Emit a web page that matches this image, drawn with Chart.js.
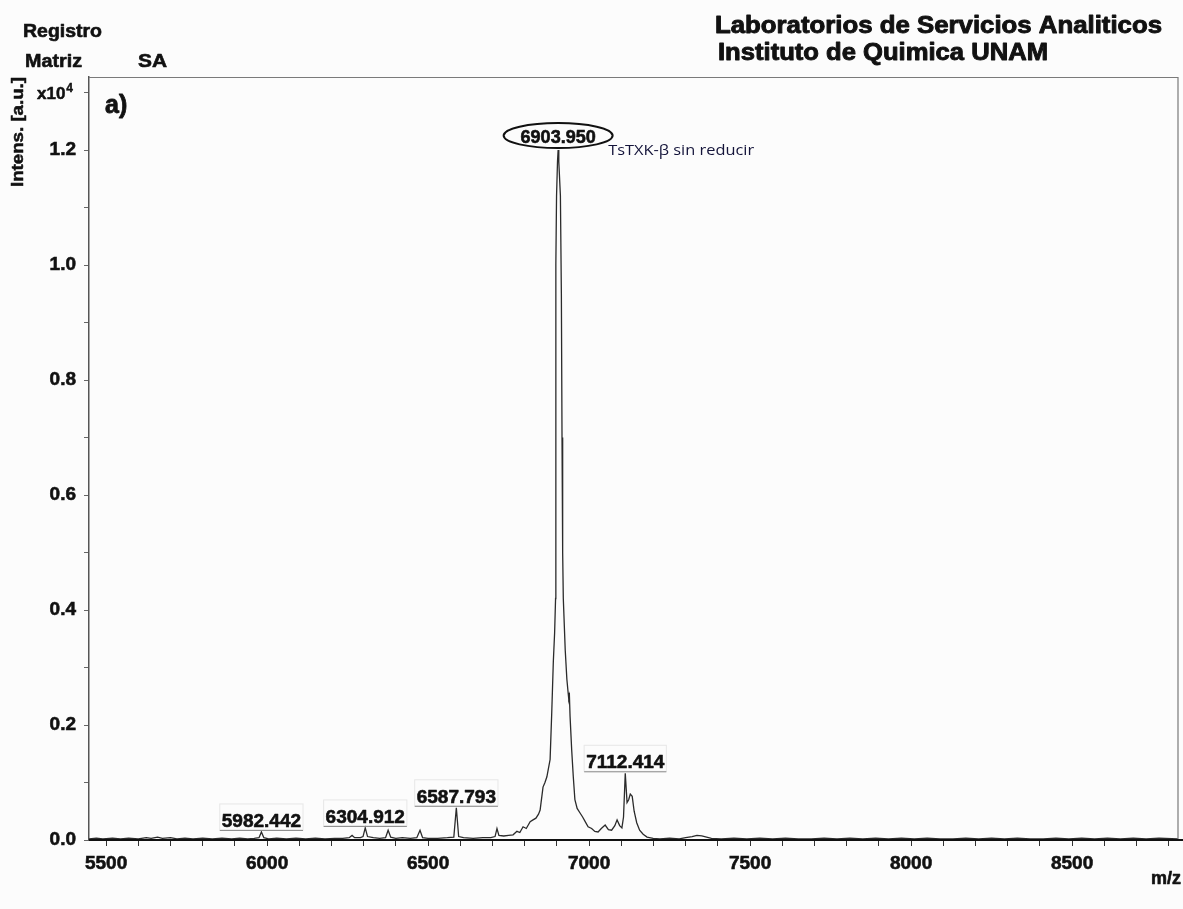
<!DOCTYPE html>
<html>
<head>
<meta charset="utf-8">
<script src="https://cdn.jsdelivr.net/npm/chart.js@4.4.1/dist/chart.umd.min.js"></script>
<style>
  html, body { margin: 0; padding: 0; background: #fcfcfc; }
  #wrap { width: 1183px; height: 909px; position: relative; }
  canvas { display: block; }
</style>
</head>
<body>
<div id="wrap"><canvas id="c" width="1183" height="909"></canvas></div>
<script>
// MALDI-TOF spectrum: m/z vs intensity (x10^4 a.u.)
const mz = [
  5447, 5470, 5490, 5520, 5545, 5570, 5600, 5625, 5640, 5660, 5675, 5700, 5720, 5745, 5770,
  5800, 5830, 5860, 5890, 5915, 5940, 5960, 5975, 5982.442, 5990, 6005, 6030, 6060, 6090,
  6120, 6150, 6180, 6210, 6235, 6255, 6264, 6272, 6290, 6298, 6304.912, 6312, 6330, 6350,
  6368, 6376, 6384, 6400, 6420, 6445, 6465, 6475, 6483, 6500, 6530, 6560, 6580, 6587.793,
  6595, 6610, 6640, 6670, 6695, 6708, 6714, 6720, 6735, 6750, 6764, 6776, 6785, 6795, 6805,
  6817, 6826, 6835, 6843, 6848, 6857, 6863, 6869, 6874, 6879, 6884, 6889, 6893, 6896,
  6896.5, 6897.2, 6899, 6902, 6903.95, 6906, 6911, 6914, 6916, 6918, 6920, 6926, 6931,
  6935, 6937, 6939, 6941, 6946, 6951, 6956, 6963, 6972, 6980, 6988, 6997, 7008, 7018,
  7028, 7038, 7050, 7060, 7070, 7080, 7087, 7095, 7102, 7107, 7112.414, 7118, 7123, 7128,
  7134, 7140, 7148, 7157, 7168, 7180, 7199, 7220, 7250, 7280, 7300, 7320, 7335, 7350, 7365,
  7380, 7410, 7450, 7490, 7530, 7570, 7610, 7650, 7690, 7730, 7770, 7810, 7850, 7890, 7930,
  7970, 8010, 8050, 8090, 8130, 8170, 8210, 8250, 8290, 8330, 8370, 8410, 8450, 8490, 8530,
  8570, 8610, 8650, 8690, 8730, 8770, 8829
];
const intens = [
  0.002, 0.003, 0.002, 0.003, 0.002, 0.003, 0.002, 0.004, 0.003, 0.005, 0.003, 0.004, 0.002, 0.003, 0.002,
  0.003, 0.002, 0.003, 0.002, 0.003, 0.002, 0.003, 0.004, 0.014, 0.004, 0.002, 0.003, 0.002, 0.003,
  0.002, 0.003, 0.002, 0.003, 0.003, 0.004, 0.008, 0.004, 0.004, 0.006, 0.021, 0.006, 0.004, 0.003,
  0.004, 0.017, 0.005, 0.003, 0.004, 0.003, 0.004, 0.017, 0.004, 0.003, 0.003, 0.004, 0.005, 0.056,
  0.006, 0.004, 0.003, 0.004, 0.004, 0.006, 0.020, 0.008, 0.007, 0.008, 0.009, 0.015, 0.013, 0.023, 0.020,
  0.032, 0.035, 0.038, 0.045, 0.052, 0.092, 0.100, 0.110, 0.125, 0.140, 0.220, 0.310, 0.360, 0.420,
  0.700, 1.000, 1.120, 1.180, 1.200, 1.180, 1.120, 0.950, 0.700, 0.500, 0.420, 0.330, 0.280,
  0.256, 0.245, 0.250, 0.215, 0.157, 0.110, 0.070, 0.055, 0.047, 0.040, 0.032, 0.023, 0.020, 0.015,
  0.014, 0.020, 0.026, 0.018, 0.017, 0.025, 0.035, 0.025, 0.021, 0.040, 0.116, 0.065, 0.070, 0.080,
  0.076, 0.050, 0.030, 0.017, 0.010, 0.005, 0.003, 0.002, 0.003, 0.002, 0.004, 0.006, 0.008, 0.007, 0.005,
  0.003, 0.002, 0.003, 0.002, 0.003, 0.002, 0.003, 0.002, 0.002, 0.003, 0.002, 0.003, 0.002, 0.003, 0.002,
  0.003, 0.002, 0.003, 0.002, 0.002, 0.003, 0.002, 0.003, 0.002, 0.003, 0.002, 0.002, 0.003, 0.002, 0.003,
  0.002, 0.003, 0.002, 0.003, 0.002, 0.003, 0.002
];

// annotated peaks
const peakLabels = [5982.442, 6304.912, 6587.793, 7112.414];
const mainPeak = 6903.950;
const mainPeakName = 'TsTXK-\u03B2 sin reducir';

// axis ticks
const xTicks = [];
for (let v = 5500; v <= 8800; v += 100) xTicks.push(v);
const xLabeled = [5500, 6000, 6500, 7000, 7500, 8000, 8500];
const yTicks = [0, 0.1, 0.2, 0.3, 0.4, 0.5, 0.6, 0.7, 0.8, 0.9, 1.0, 1.1, 1.2, 1.3];
const yLabeled = [0, 0.2, 0.4, 0.6, 0.8, 1.0, 1.2];

const xMin = 5447, xMax = 8829, yMax = 1.327;
const FONT = '"Liberation Sans", Arial, sans-serif';

const points = mz.map((m, i) => ({ x: m, y: intens[i] }));

// draws text squeezed/stretched to a given width, with an optional thin outline for weight
function fitText(ctx, text, x, y, width, font, align, stroke) {
  ctx.save();
  ctx.font = font;
  const w = ctx.measureText(text).width;
  const s = width / w;
  ctx.translate(x, y);
  ctx.scale(s, 1);
  ctx.textAlign = align || 'left';
  if (stroke) {
    ctx.lineWidth = stroke;
    ctx.strokeStyle = ctx.fillStyle;
    ctx.lineJoin = 'round';
    ctx.strokeText(text, 0, 0);
  }
  ctx.fillText(text, 0, 0);
  ctx.restore();
}

function heavyText(ctx, text, x, y, stroke) {
  ctx.save();
  ctx.lineWidth = stroke;
  ctx.strokeStyle = ctx.fillStyle;
  ctx.lineJoin = 'round';
  ctx.strokeText(text, x, y);
  ctx.fillText(text, x, y);
  ctx.restore();
}

function valueAt(m) {
  const i = mz.indexOf(m);
  return i >= 0 ? intens[i] : 0;
}

const decorations = {
  id: 'decorations',
  beforeDraw(chart) {
    const ctx = chart.ctx;
    ctx.save();
    ctx.fillStyle = '#fcfcfc';
    ctx.fillRect(0, 0, chart.width, chart.height);
    ctx.restore();
  },
  afterDraw(chart) {
    const ctx = chart.ctx;
    const a = chart.chartArea;
    const xs = chart.scales.x, ys = chart.scales.y;
    ctx.save();

    // frame: top and right edges
    ctx.strokeStyle = '#7a7a7a';
    ctx.lineWidth = 1.2;
    ctx.beginPath();
    ctx.moveTo(a.left, a.top + 0.5);
    ctx.lineTo(a.right, a.top + 0.5);
    ctx.lineTo(a.right, a.bottom);
    ctx.stroke();

    // x axis baseline, running to the page edge
    ctx.strokeStyle = '#111';
    ctx.lineWidth = 2;
    ctx.beginPath();
    ctx.moveTo(a.left, a.bottom);
    ctx.lineTo(chart.width, a.bottom);
    ctx.stroke();

    ctx.fillStyle = '#111';
    ctx.textBaseline = 'alphabetic';

    // header texts
    fitText(ctx, 'Registro', 23, 37, 79, 'bold 18px ' + FONT, 'left', 0.6);
    fitText(ctx, 'Matriz', 25, 67, 57, 'bold 18px ' + FONT, 'left', 0.6);
    fitText(ctx, 'SA', 138, 67, 29, 'bold 18px ' + FONT, 'left', 0.6);
    fitText(ctx, 'Laboratorios de Servicios Analiticos', 715, 33, 447, 'bold 23px ' + FONT, 'left', 0.9);
    fitText(ctx, 'Instituto de Quimica UNAM', 718, 60, 330, 'bold 23px ' + FONT, 'left', 0.9);

    // y axis title
    ctx.save();
    ctx.translate(23, 187);
    ctx.rotate(-Math.PI / 2);
    fitText(ctx, 'Intens. [a.u.]', 0, 0, 110, 'bold 16px ' + FONT, 'left', 0.5);
    ctx.restore();

    // exponent beside the top tick
    const y13 = ys.getPixelForValue(1.3);
    ctx.font = 'bold 17px ' + FONT;
    ctx.textAlign = 'left';
    heavyText(ctx, 'x10', 37, y13 + 6, 0.5);
    const w10 = ctx.measureText('x10').width;
    ctx.font = 'bold 12px ' + FONT;
    heavyText(ctx, '4', 37 + w10 + 1, y13 - 1, 0.4);

    // panel letter
    ctx.font = 'bold 25px ' + FONT;
    heavyText(ctx, 'a)', 105, 113, 0.8);

    // x axis unit
    ctx.font = 'bold 18px ' + FONT;
    ctx.textAlign = 'right';
    heavyText(ctx, 'm/z', 1181, 884, 0.6);

    // peak labels with box
    ctx.font = 'bold 19px ' + FONT;
    ctx.textAlign = 'center';
    peakLabels.forEach(m => {
      const px = xs.getPixelForValue(m);
      const py = ys.getPixelForValue(valueAt(m));
      const txt = m.toFixed(3);
      const w = ctx.measureText(txt).width;
      const bottom = py - 2;
      ctx.strokeStyle = 'rgba(170,170,170,0.25)';
      ctx.lineWidth = 1;
      ctx.strokeRect(px - w / 2 - 2, bottom - 26, w + 4, 26);
      ctx.strokeStyle = '#8a8a8a';
      ctx.beginPath();
      ctx.moveTo(px - w / 2 - 2, bottom + 0.5);
      ctx.lineTo(px + w / 2 + 2, bottom + 0.5);
      ctx.stroke();
      ctx.fillStyle = '#111';
      heavyText(ctx, txt, px, bottom - 3, 0.6);
    });

    // main peak in ellipse
    const mx = xs.getPixelForValue(mainPeak);
    const my = ys.getPixelForValue(valueAt(mainPeak));
    const cy = my - 14.5;
    ctx.strokeStyle = '#111';
    ctx.lineWidth = 2;
    ctx.beginPath();
    ctx.ellipse(mx, cy, 54.5, 12.5, 0, 0, Math.PI * 2);
    ctx.stroke();
    ctx.font = 'bold 18px ' + FONT;
    ctx.textAlign = 'center';
    ctx.fillStyle = '#111';
    heavyText(ctx, mainPeak.toFixed(3), mx, cy + 7, 0.6);

    ctx.fillStyle = '#14143a';
    fitText(ctx, mainPeakName, mx + 50, my + 5, 146, '15px "Open Sans", sans-serif', 'left', 0);

    ctx.restore();
  }
};

new Chart(document.getElementById('c'), {
  type: 'line',
  data: {
    datasets: [{
      data: points,
      borderColor: '#2b2b2b',
      borderWidth: 1.3,
      pointRadius: 0,
      tension: 0,
      fill: false
    }]
  },
  options: {
    responsive: false,
    animation: false,
    devicePixelRatio: 1,
    layout: { padding: { top: 77, right: 5, left: 0, bottom: 0 } },
    plugins: { legend: { display: false }, tooltip: { enabled: false } },
    scales: {
      x: {
        type: 'linear',
        min: xMin,
        max: xMax,
        afterBuildTicks: s => { s.ticks = xTicks.map(v => ({ value: v })); },
        afterFit: s => { s.height = 69; },
        border: { display: false },
        grid: { drawOnChartArea: false, drawTicks: true, tickLength: 6, color: '#333', lineWidth: 1 },
        ticks: {
          autoSkip: false,
          maxRotation: 0,
          padding: 6,
          color: '#111',
          textStrokeColor: '#111',
          textStrokeWidth: 0.6,
          font: { family: FONT, size: 19, weight: 'bold' },
          callback: v => (xLabeled.includes(v) ? String(v) : '')
        }
      },
      y: {
        type: 'linear',
        min: 0,
        max: yMax,
        afterBuildTicks: s => { s.ticks = yTicks.map(v => ({ value: v })); },
        afterFit: s => { s.width = 89; },
        border: { display: true, color: '#555', width: 1.5 },
        grid: { drawOnChartArea: false, drawTicks: true, tickLength: 5, color: '#666', lineWidth: 1 },
        ticks: {
          autoSkip: false,
          padding: 8,
          color: '#111',
          textStrokeColor: '#111',
          textStrokeWidth: 0.6,
          font: { family: FONT, size: 19, weight: 'bold' },
          callback: v => (yLabeled.some(t => Math.abs(t - v) < 1e-6) ? v.toFixed(1) : '')
        }
      }
    }
  },
  plugins: [decorations]
});
</script>
</body>
</html>
